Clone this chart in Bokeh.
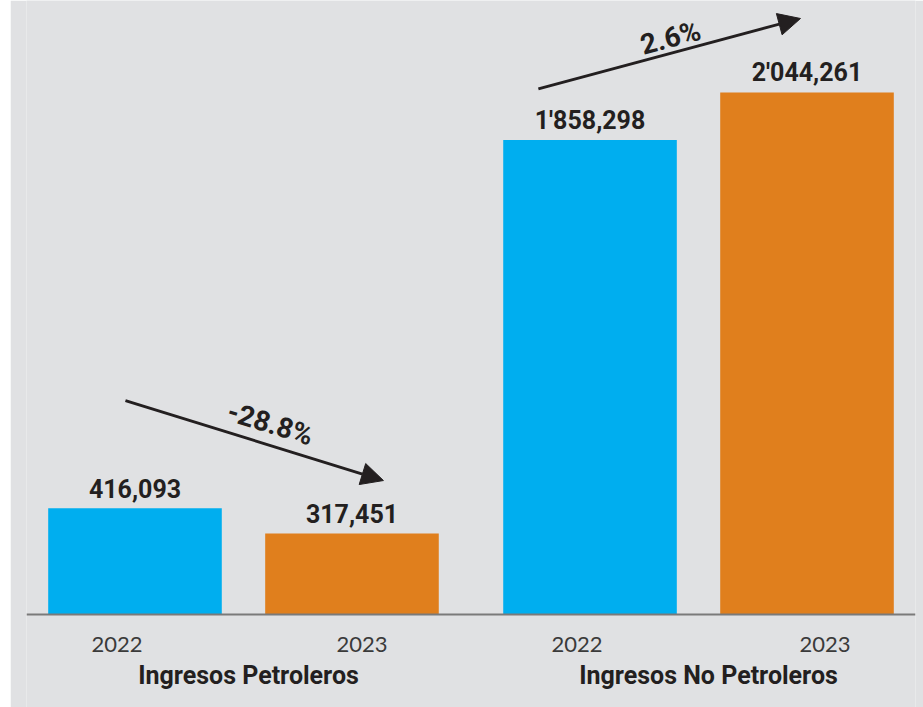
from bokeh.plotting import figure
from bokeh.models import FactorRange, ColumnDataSource, Arrow, NormalHead, Range1d, Spacer, Span
from bokeh.layouts import row
from bokeh.core.properties import value
from bokeh.embed import file_html
from bokeh.resources import INLINE

groups = ["Ingresos Petroleros", "Ingresos No Petroleros"]
years = ["2022", "2023"]
petroleros = [416093, 317451]
no_petroleros = [1858298, 2044261]
value_labels = ["416,093", "317,451", "1'858,298", "2'044,261"]
changes = ["-28.8%", "2.6%"]

BG = "#e0e1e3"
BLUE = "#00aeef"
ORANGE = "#e07f1d"
INK = "#231f20"
GROUP_PAD = 0.097
PX = 3916  # data units per pixel on the y scale

factors = [(g, y) for g in groups for y in years]
vals = petroleros + no_petroleros
colors = [BLUE, ORANGE] * len(groups)

src = ColumnDataSource(dict(x=factors, v=vals, c=colors, lab=value_labels))

p = figure(
    x_range=FactorRange(*factors, group_padding=GROUP_PAD, range_padding=0),
    y_range=Range1d(-93 * PX, 2405000),
    width=913, height=707,
    output_backend="svg", toolbar_location=None,
    min_border_left=16, min_border_right=8, min_border_top=0, min_border_bottom=0,
)
p.background_fill_color = BG
p.border_fill_color = BG
p.outline_line_color = None
p.xgrid.grid_line_color = None
p.ygrid.grid_line_color = None
p.xaxis.visible = False
p.yaxis.visible = False

p.vbar(x="x", top="v", bottom=0, width=0.8, fill_color="c", line_color=None, source=src)
p.add_layout(Span(location=0, dimension="width", line_color="#7a7a7a", line_width=2))

p.text(x="x", y="v", text="lab", source=src, y_offset=-20,
       text_align="center", text_baseline="alphabetic",
       text_font=value("Roboto"), text_font_style="bold",
       text_font_size="25px", text_color=INK)

# year labels under each bar
ysrc = ColumnDataSource(dict(x=factors, t=[f[1] for f in factors], dx=[-18, 10, -13, 18]))
p.text(x="x", y=-30 * PX, text="t", x_offset="dx", source=ysrc,
       text_align="center", text_baseline="middle",
       text_font=value("Lato"), text_font_size="22px", text_color="#3a3a3a")

# group labels
gsrc = ColumnDataSource(dict(x=groups, t=groups, dx=[5, 10]))
p.text(x="x", y=-61 * PX, text="t", x_offset="dx", source=gsrc,
       text_align="center", text_baseline="middle",
       text_font=value("Roboto"), text_font_style="bold",
       text_font_size="25px", text_color=INK)

# change arrows (annotations positioned relative to the bars)
a1 = dict(xs=0.456, ys=petroleros[0] * 2.014, xe=1.645, ye=petroleros[1] * 1.653)
a2 = dict(xs=2.359, ys=no_petroleros[0] * 1.108, xe=3.567, ye=no_petroleros[1] * 1.142)
for a in (a1, a2):
    p.add_layout(Arrow(x_start=a["xs"], y_start=a["ys"], x_end=a["xe"], y_end=a["ye"],
                       line_color=INK, line_width=2.8,
                       end=NormalHead(size=22, fill_color=INK, line_color=INK)))

csrc = ColumnDataSource(dict(
    x=[1.124, 2.968],
    y=[petroleros[0] * 1.797, no_petroleros[1] * 1.105],
    t=changes,
    a=[-0.30, 0.262],
))
p.text(x="x", y="y", text="t", angle="a", source=csrc,
       text_align="center", text_baseline="middle",
       text_font=value("Roboto"), text_font_style="bold",
       text_font_size="28px", text_color=INK)

layout = row(Spacer(width=10, height=707), p)
open("out.html", "w").write(file_html(layout, INLINE))
